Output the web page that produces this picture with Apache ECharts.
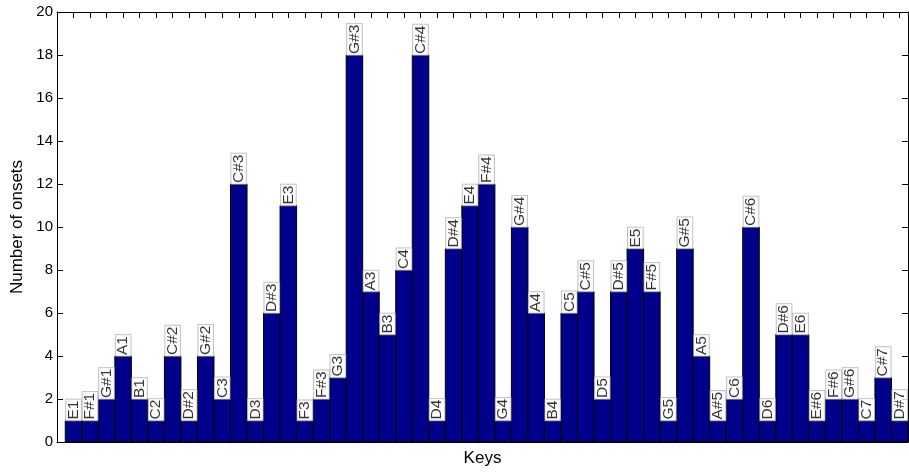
<!DOCTYPE html>
<html>
<head>
<meta charset="utf-8">
<script src="https://cdn.jsdelivr.net/npm/echarts@6/dist/echarts.min.js"></script>
<style>
  html, body { margin: 0; padding: 0; background: #fff; }
  #chart { width: 909px; height: 474px; }
</style>
</head>
<body>
<div id="chart"></div>
<script>
// Piano keys with detected onsets, lowest to highest
const keys = [
  'E1', 'F#1', 'G#1', 'A1', 'B1', 'C2', 'C#2', 'D#2', 'G#2', 'C3',
  'C#3', 'D3', 'D#3', 'E3', 'F3', 'F#3', 'G3', 'G#3', 'A3', 'B3',
  'C4', 'C#4', 'D4', 'D#4', 'E4', 'F#4', 'G4', 'G#4', 'A4', 'B4',
  'C5', 'C#5', 'D5', 'D#5', 'E5', 'F#5', 'G5', 'G#5', 'A5', 'A#5',
  'C6', 'C#6', 'D6', 'D#6', 'E6', 'E#6', 'F#6', 'G#6', 'C7', 'C#7',
  'D#7'
];
// Number of onsets per key
const onsets = [
  1, 1, 2, 4, 2, 1, 4, 1, 4, 2,
  12, 1, 6, 11, 1, 2, 3, 18, 7, 5,
  8, 18, 1, 9, 11, 12, 1, 10, 6, 1,
  6, 7, 2, 7, 9, 7, 1, 9, 4, 1,
  2, 10, 1, 5, 5, 1, 2, 2, 1, 3,
  1
];
// Value axis ticks
const yTicks = [0, 2, 4, 6, 8, 10, 12, 14, 16, 18, 20];

const barData = keys.map((k, i) => [i + 1, onsets[i]]);
const font = '"Liberation Sans", Arial, Helvetica, sans-serif';

const chart = echarts.init(document.getElementById('chart'), null, { renderer: 'canvas' });

const xCommon = {
  type: 'value',
  min: 0,
  max: keys.length + 0.5,
  interval: 1,
  splitLine: { show: false },
  axisLabel: { show: false },
  axisLine: { show: true, onZero: false, lineStyle: { color: '#000', width: 1 } },
  axisTick: { show: true, inside: true, length: 6, lineStyle: { color: '#000' } }
};
const yCommon = {
  type: 'value',
  min: yTicks[0],
  max: yTicks[yTicks.length - 1],
  interval: yTicks[1] - yTicks[0],
  splitLine: { show: false },
  axisLine: { show: true, onZero: false, lineStyle: { color: '#000', width: 1 } },
  axisTick: { show: true, inside: true, length: 6, lineStyle: { color: '#000' } }
};

chart.setOption({
  animation: false,
  backgroundColor: '#fff',
  grid: { left: 57, right: 1, top: 12, bottom: 32 },
  xAxis: [
    Object.assign({}, xCommon, {
      position: 'bottom',
      name: 'Keys',
      nameLocation: 'middle',
      nameGap: 8,
      nameTextStyle: { fontFamily: font, fontSize: 17, color: '#000', verticalAlign: 'top' }
    }),
    Object.assign({}, xCommon, { position: 'top' })
  ],
  yAxis: [
    Object.assign({}, yCommon, {
      position: 'left',
      name: 'Number of onsets',
      nameLocation: 'middle',
      nameGap: 28,
      nameTextStyle: { fontFamily: font, fontSize: 17, color: '#000' },
      axisLabel: { show: true, margin: 4, fontFamily: font, fontSize: 15, color: '#000' }
    }),
    Object.assign({}, yCommon, { position: 'right', axisLabel: { show: false } })
  ],
  series: [
    {
      type: 'custom',
      xAxisIndex: 0,
      yAxisIndex: 0,
      z: 2,
      encode: { x: 0, y: 1 },
      data: barData,
      renderItem: function (params, api) {
        const x = api.value(0);
        const v = api.value(1);
        const p0 = api.coord([x - 0.5, v]);
        const p1 = api.coord([x + 0.5, 0]);
        return {
          type: 'rect',
          shape: { x: p0[0], y: p0[1], width: p1[0] - p0[0], height: p1[1] - p0[1] },
          style: { fill: '#00008B', stroke: '#000', lineWidth: 1 }
        };
      }
    },
    {
      // Key names written upward from the top of each bar
      type: 'scatter',
      xAxisIndex: 0,
      yAxisIndex: 0,
      z: 3,
      symbol: 'circle',
      symbolSize: 1,
      itemStyle: { color: 'rgba(0,0,0,0)' },
      data: barData,
      label: {
        show: true,
        position: 'inside',
        rotate: 90,
        align: 'left',
        verticalAlign: 'middle',
        formatter: (p) => keys[p.dataIndex],
        fontFamily: font,
        fontSize: 15.5,
        color: '#000',
        lineHeight: 15,
        backgroundColor: '#fff',
        borderColor: '#aaa',
        borderWidth: 0.8,
        padding: [0, 1, 0, 1]
      },
      labelLayout: { hideOverlap: false }
    }
  ]
});
</script>
</body>
</html>
